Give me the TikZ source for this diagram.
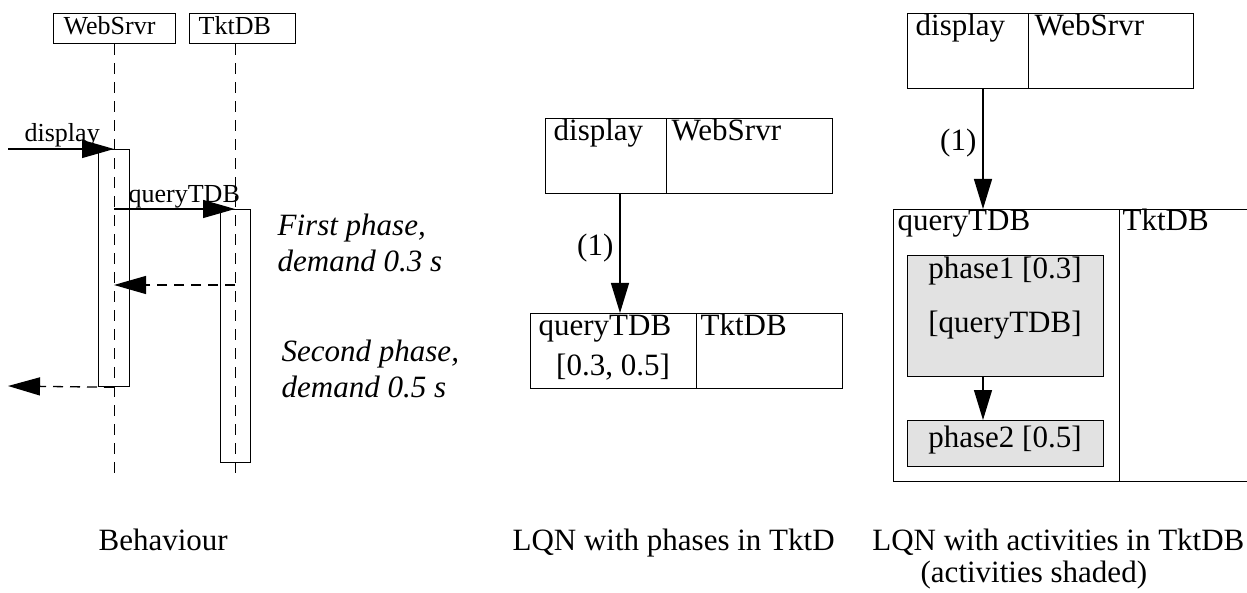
\documentclass[tikz,border=0pt]{standalone}
\usepackage{fontspec}
\setmainfont{Liberation Serif}
\usetikzlibrary{arrows.meta}
\begin{document}
\begin{tikzpicture}[x=1pt,y=-1pt,
  line width=1.3pt,
  box/.style={draw, rectangle, inner sep=0pt, anchor=north west},
  shaded/.style={box, fill={rgb,255:red,226;green,226;blue,226}},
  txt/.style={inner sep=0pt, anchor=base west},
  ctxt/.style={inner sep=0pt, anchor=base},
  small/.style={font=\fontsize{26}{30}\selectfont},
  big/.style={font=\fontsize{31}{37}\selectfont},
  note/.style={txt, font=\fontsize{31}{37}\selectfont\itshape},
  msg/.style={-{Triangle[length=32pt,width=18pt]}},
  ret/.style={msg, dash pattern=on 10pt off 7pt},
  life/.style={dash pattern=on 11pt off 8pt, line width=1pt},
]
\clip (0,0) rectangle (1247,593);

% ---------------- Behaviour (sequence diagram) ----------------
\node[box, minimum width=122, minimum height=30] (ws) at (53,13) {};
\node[box, minimum width=106, minimum height=30] (td) at (189,13) {};
\node[txt, small] (wsl) at (63,35) {WebSrvr};
\node[txt, small] (tdl) at (198,35) {TktDB};

\coordinate (wsend) at (114,480);
\coordinate (tdend) at (235,480);

\node[box, minimum width=31, minimum height=237] (wsact) at (98,149) {};
\node[box, minimum width=30, minimum height=253] (tdact) at (220,209) {};

\draw[life] (ws.south -| wsend) -- (wsend);
\draw[life] (td.south -| tdend) -- (tdend);

\coordinate (din) at (8,149);
\coordinate (dout) at (8,386);
\coordinate (rback) at (235,285);

\draw[msg] (din) -- (din -| wsend);
\draw[msg] (wsend |- tdact.north) -- (tdend |- tdact.north);
\draw[ret] (rback) -- (rback -| wsend);
\draw[ret] (wsend |- wsact.south) -- (dout);

\node[txt, small] (displ) at (24,142) {display};
\node[txt, small] (qtdbl) at (128,203) {queryTDB};

\node[note] (n1a) at (277,236) {First phase,};
\node[note] (n1b) at (277,272) {demand 0.3 s};
\node[note] (n2a) at (281,362) {Second phase,};
\node[note] (n2b) at (281,397) {demand 0.5 s};

\node[txt, big] (cap1) at (98,550) {Behaviour};

% ---------------- LQN with phases ----------------
\node[box, minimum width=121, minimum height=75] (mdisp) at (545,118) {};
\node[box, minimum width=166, minimum height=75] (mws) at (666,118) {};
\node[box, minimum width=166, minimum height=75] (mq) at (530,313) {};
\node[box, minimum width=146, minimum height=75] (mtd) at (696,313) {};
\node[txt, big] at (553,141) {display};
\node[txt, big] at (671,141) {WebSrvr};
\node[txt, big] at (538,336) {queryTDB};
\node[txt, big] at (700,336) {TktDB};
\node[ctxt, big] at (613,375) {[0.3, 0.5]};

\coordinate (mcall) at (620,0);
\draw[-{Triangle[length=30pt,width=18pt]}] (mcall |- mdisp.south) -- (mcall |- mq.north)
  node[pos=0.45, left=6pt, big, inner sep=0pt] {(1)};

\node[txt, big] (cap2) at (512,550) {LQN with phases in TktD};

% ---------------- LQN with activities ----------------
\node[box, minimum width=121, minimum height=75] (rdisp) at (907,13) {};
\node[box, minimum width=165, minimum height=75] (rws) at (1028,13) {};
\node[box, minimum width=226, minimum height=272] (rq) at (893,209) {};
\node[box, minimum width=160, minimum height=272] (rtd) at (1119,209) {};
\node[txt, big] at (915,36) {display};
\node[txt, big] at (1034,36) {WebSrvr};
\node[txt, big] at (897,231) {queryTDB};
\node[txt, big] at (1122,231) {TktDB};

\node[shaded, minimum width=196, minimum height=121] (ph1) at (907,255) {};
\node[shaded, minimum width=196, minimum height=46] (ph2) at (907,420) {};
\node[ctxt, big] at (1005,279) {phase1 [0.3]};
\node[ctxt, big] at (1005,333) {[queryTDB]};
\node[ctxt, big] at (1005,447) {phase2 [0.5]};

\coordinate (rcall) at (983,0);
\draw[-{Triangle[length=30pt,width=18pt]}] (rcall |- rdisp.south) -- (rcall |- rq.north)
  node[pos=0.45, left=6pt, big, inner sep=0pt] {(1)};
\draw[-{Triangle[length=30pt,width=18pt]}] (rcall |- ph1.south) -- (rcall |- ph2.north);

\node[ctxt, big, anchor=base east] (cap3) at (1245,550) {LQN with activities in TktDB};
\node[txt, big] (cap3b) at (920,582) {(activities shaded)};
\end{tikzpicture}
\end{document}
